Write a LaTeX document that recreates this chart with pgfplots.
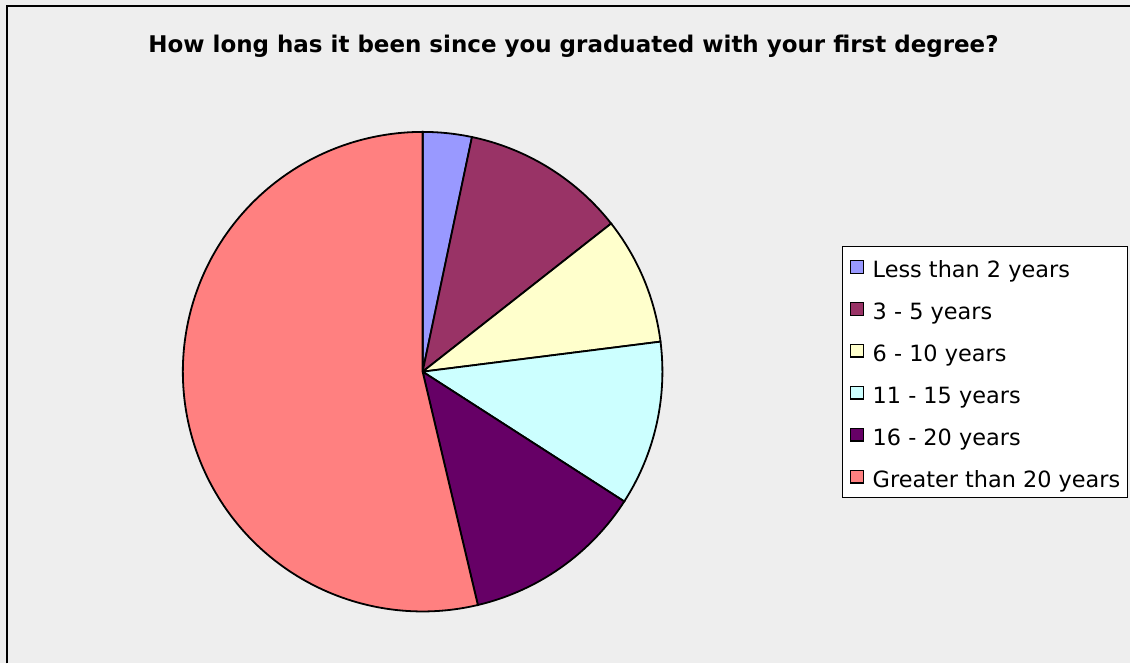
\documentclass[border=0pt]{standalone}
\usepackage{fontspec}
\setmainfont{DejaVu Sans}
\usepackage{pgfplots}
\pgfplotsset{compat=1.18}
\usepgfplotslibrary{polar}
\definecolor{bg}{HTML}{EEEEEE}
\definecolor{c1}{HTML}{9999FF}
\definecolor{c2}{HTML}{993366}
\definecolor{c3}{HTML}{FFFFCC}
\definecolor{c4}{HTML}{CCFFFF}
\definecolor{c5}{HTML}{660066}
\definecolor{c6}{HTML}{FF8080}
% slice shares in percent (clockwise from 12 o'clock):
% Less than 2: 3.3, 3-5: 11.1, 6-10: 8.6, 11-15: 11.1, 16-20: 12.2, >20: 53.7
\begin{document}
\begin{tikzpicture}
\fill[bg] (0pt,0pt) rectangle (565.5pt,-332pt);
\draw[black, line width=1pt] (3.5pt,-332pt) -- (3.5pt,-3pt) -- (565.5pt,-3pt);
\begin{polaraxis}[
  at={(211.5pt,-186pt)}, anchor=origin,
  scale only axis, width=240pt, height=240pt,
  hide axis, ymin=0, ymax=1, clip=false,
  title={How long has it been since you graduated with your first degree?},
  title style={at={(0.8146,1.11875)}, anchor=center, font=\bfseries\fontsize{11.5}{13}\selectfont},
  legend cell align=left,
  legend style={at={(1.375,0.7625)}, anchor=north west, draw=black, line width=0.5pt,
    fill=white, font=\fontsize{11.2}{12}\selectfont,
    nodes={inner xsep=0pt, inner ysep=1pt, text height=10.5pt, text depth=0pt},
    row sep=8.5pt, inner xsep=3.5pt, inner ysep=4pt,
    /tikz/every odd column/.append style={column sep=4.5pt}},
  legend image code/.code={\draw[#1, draw=black, line width=0.6pt] (0pt,-3.2pt) rectangle (6.4pt,3.2pt);},
]
\addplot[fill=c1, draw=black, line width=0.9pt, domain={90-3.6*3.3}:{90}, samples=20] {1} -- (axis cs:0,0) -- cycle;
\addlegendentry{Less than 2 years}
\addplot[fill=c2, draw=black, line width=0.9pt, domain={90-3.6*14.4}:{90-3.6*3.3}, samples=40] {1} -- (axis cs:0,0) -- cycle;
\addlegendentry{3 - 5 years}
\addplot[fill=c3, draw=black, line width=0.9pt, domain={90-3.6*23.0}:{90-3.6*14.4}, samples=40] {1} -- (axis cs:0,0) -- cycle;
\addlegendentry{6 - 10 years}
\addplot[fill=c4, draw=black, line width=0.9pt, domain={90-3.6*34.1}:{90-3.6*23.0}, samples=40] {1} -- (axis cs:0,0) -- cycle;
\addlegendentry{11 - 15 years}
\addplot[fill=c5, draw=black, line width=0.9pt, domain={90-3.6*46.3}:{90-3.6*34.1}, samples=40] {1} -- (axis cs:0,0) -- cycle;
\addlegendentry{16 - 20 years}
\addplot[fill=c6, draw=black, line width=0.9pt, domain={90-3.6*100}:{90-3.6*46.3}, samples=160] {1} -- (axis cs:0,0) -- cycle;
\addlegendentry{Greater than 20 years}
\end{polaraxis}
\end{tikzpicture}
\end{document}
